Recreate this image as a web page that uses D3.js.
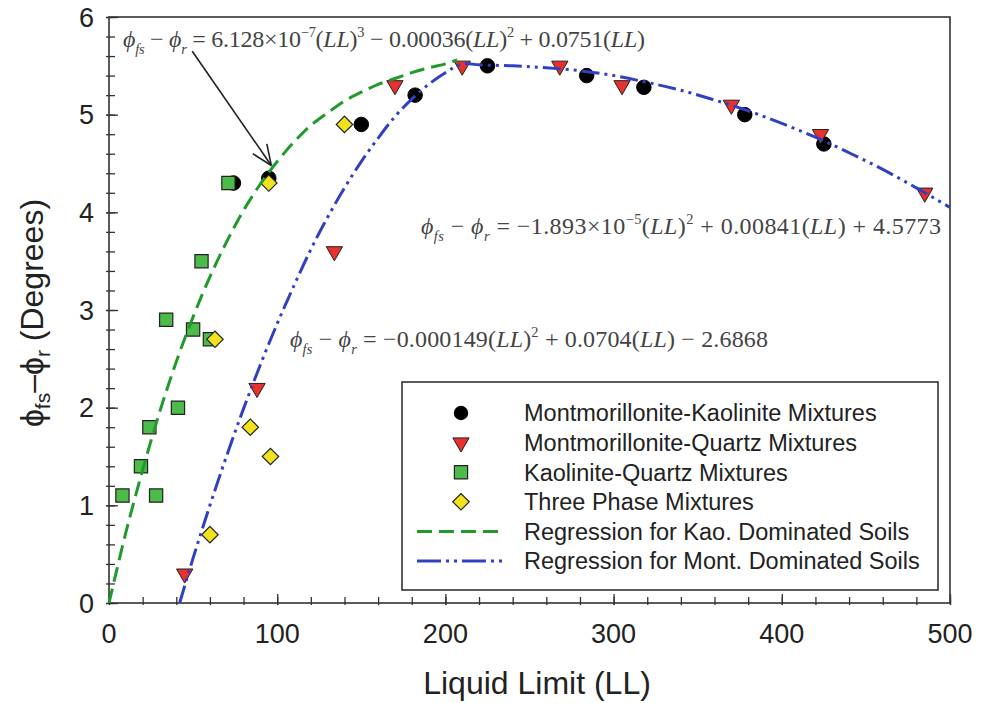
<!DOCTYPE html>
<html>
<head>
<meta charset="utf-8">
<script src="https://cdn.jsdelivr.net/npm/d3@7"></script>
<style>
  html, body { margin: 0; padding: 0; background: #fff; }
  svg { display: block; }
</style>
</head>
<body>
<script>
// ---------------- DATA ----------------
const xTicks = [0, 100, 200, 300, 400, 500];
const yTicks = [0, 1, 2, 3, 4, 5, 6];

// Montmorillonite-Kaolinite Mixtures (black circles)
const mkX = [74, 95, 150, 182, 225, 284, 318, 378, 425];
const mkY = [4.3, 4.35, 4.9, 5.2, 5.5, 5.4, 5.28, 5.0, 4.7];

// Montmorillonite-Quartz Mixtures (red down triangles)
const mqX = [45, 88, 134, 170, 210, 268, 305, 370, 423, 485];
const mqY = [0.3, 2.2, 3.6, 5.3, 5.5, 5.5, 5.3, 5.1, 4.8, 4.2];

// Kaolinite-Quartz Mixtures (green squares)
const kqX = [8, 19, 24, 28, 34, 41, 50, 55, 60, 71];
const kqY = [1.1, 1.4, 1.8, 1.1, 2.9, 2.0, 2.8, 3.5, 2.7, 4.3];

// Three Phase Mixtures (yellow diamonds)
const tpX = [60, 63, 84, 95, 96, 140];
const tpY = [0.7, 2.7, 1.8, 4.3, 1.5, 4.9];

// Regression for Kao. Dominated Soils
const kaoLineX = [0, 10, 20, 30, 40, 50, 60, 70, 80, 90, 100, 110, 120, 130, 140, 150, 160, 170, 180, 190, 200, 207];
const kaoLineY = [0, 0.72, 1.36, 1.95, 2.47, 2.93, 3.34, 3.70, 4.02, 4.29, 4.52, 4.72, 4.89, 5.02, 5.14, 5.23, 5.31, 5.37, 5.43, 5.48, 5.52, 5.56];

// Regression for Mont. Dominated Soils
const montLineX = [42, 50, 60, 70, 80, 90, 100, 110, 120, 130, 140, 150, 160, 170, 180, 190, 200, 210, 220, 240, 260, 280, 300, 320, 340, 360, 380, 400, 420, 440, 460, 480, 500];
const montLineY = [0, 0.46, 1.00, 1.51, 1.99, 2.44, 2.86, 3.25, 3.62, 3.95, 4.25, 4.52, 4.76, 4.98, 5.16, 5.31, 5.43, 5.52, 5.51, 5.50, 5.48, 5.45, 5.40, 5.33, 5.25, 5.15, 5.04, 4.91, 4.77, 4.61, 4.44, 4.25, 4.05];

const legendLabels = [
  "Montmorillonite-Kaolinite Mixtures",
  "Montmorillonite-Quartz Mixtures",
  "Kaolinite-Quartz Mixtures",
  "Three Phase Mixtures",
  "Regression for Kao. Dominated Soils",
  "Regression for Mont. Dominated Soils"
];

// ---------------- STYLE ----------------
const W = 990, H = 703;
const axisColor = "#333";
const greenLine = "#1f9a2b";
const blueLine = "#3040c0";
const fillRed = "#e8302c", fillGreen = "#4dbb4a", fillYellow = "#f2e21e";
const markStroke = "#222";
const sans = "Arial, 'Liberation Sans', Helvetica, sans-serif";
const serif = "'Times New Roman', 'Liberation Serif', Times, serif";
const eqColor = "#444";

const svg = d3.select("body").append("svg").attr("width", W).attr("height", H);
svg.append("rect").attr("width", W).attr("height", H).attr("fill", "#fff");

const x = d3.scaleLinear().domain([0, 500]).range([109, 950]);
const y = d3.scaleLinear().domain([0, 6]).range([603, 17]);

// ---------------- AXES ----------------
const xMinor = d3.range(0, 501, 20);
const yMinor = d3.range(0, 6.001, 0.2);

const xAxis = svg.append("g").attr("transform", `translate(0,${y(0)})`)
  .call(d3.axisTop(x).tickValues(xMinor).tickSize(6).tickFormat(""));
xAxis.selectAll(".tick line").attr("y2", -6).attr("y1", 2);
const xAxisMaj = svg.append("g").attr("transform", `translate(0,${y(0)})`)
  .call(d3.axisTop(x).tickValues(xTicks).tickSize(9).tickFormat(""));
xAxisMaj.selectAll(".tick line").attr("y2", -9).attr("y1", 2);

const yAxis = svg.append("g").attr("transform", `translate(${x(0)},0)`)
  .call(d3.axisRight(y).tickValues(yMinor).tickSize(6).tickFormat(""));
yAxis.selectAll(".tick line").attr("x2", 6).attr("x1", -3);
const yAxisMaj = svg.append("g").attr("transform", `translate(${x(0)},0)`)
  .call(d3.axisRight(y).tickValues(yTicks).tickSize(9).tickFormat(""));
yAxisMaj.selectAll(".tick line").attr("x2", 9).attr("x1", -3);

svg.selectAll(".domain").remove();
svg.selectAll(".tick line").attr("stroke", axisColor).attr("stroke-width", 1.3);

// frame
svg.append("rect")
  .attr("x", x(0)).attr("y", y(6))
  .attr("width", x(500) - x(0)).attr("height", y(0) - y(6))
  .attr("fill", "none").attr("stroke", axisColor).attr("stroke-width", 1.6);

// tick labels
svg.append("g").selectAll("text").data(xTicks).join("text")
  .attr("x", d => x(d)).attr("y", 643)
  .attr("text-anchor", "middle")
  .attr("font-family", sans).attr("font-size", 27).attr("fill", "#222")
  .text(d => d);
svg.append("g").selectAll("text").data(yTicks).join("text")
  .attr("x", 94).attr("y", d => y(d))
  .attr("dy", "0.36em")
  .attr("text-anchor", "end")
  .attr("font-family", sans).attr("font-size", 27).attr("fill", "#222")
  .text(d => d);

// axis titles
svg.append("text")
  .attr("x", 537).attr("y", 694)
  .attr("text-anchor", "middle")
  .attr("font-family", sans).attr("font-size", 32).attr("fill", "#222")
  .text("Liquid Limit (LL)");

const yt = svg.append("text")
  .attr("transform", "translate(43,313) rotate(-90)")
  .attr("text-anchor", "middle")
  .attr("font-family", sans).attr("font-size", 32).attr("fill", "#222");
yt.append("tspan").text("ϕ");
yt.append("tspan").text("fs").attr("font-size", 21).attr("dy", 7);
yt.append("tspan").text("–").attr("dy", -7);
yt.append("tspan").text("ϕ");
yt.append("tspan").text("r").attr("font-size", 21).attr("dy", 7);
yt.append("tspan").text(" (Degrees)").attr("dy", -7);

// ---------------- MARKS ----------------
const mk = mkX.map((v, i) => ({ x: v, y: mkY[i] }));
const mq = mqX.map((v, i) => ({ x: v, y: mqY[i] }));
const kq = kqX.map((v, i) => ({ x: v, y: kqY[i] }));
const tp = tpX.map((v, i) => ({ x: v, y: tpY[i] }));

const symCircle = d3.symbol().type(d3.symbolCircle).size(165);
const symTri = d3.symbol().type(d3.symbolTriangle).size(115);
const symSq = d3.symbol().type(d3.symbolSquare).size(175);
const symDia = d3.symbol().type(d3.symbolSquare).size(135);

function drawTri(g, data) {
  g.selectAll("path").data(data).join("path")
    .attr("d", symTri)
    .attr("transform", d => `translate(${x(d.x)},${y(d.y)}) rotate(180)`)
    .attr("fill", fillRed).attr("stroke", markStroke).attr("stroke-width", 1);
}

svg.append("g").selectAll("path").data(mk).join("path")
  .attr("d", symCircle)
  .attr("transform", d => `translate(${x(d.x)},${y(d.y)})`)
  .attr("fill", "#000").attr("stroke", "#000");
drawTri(svg.append("g"), mq);
svg.append("g").selectAll("path").data(kq).join("path")
  .attr("d", symSq)
  .attr("transform", d => `translate(${x(d.x)},${y(d.y)})`)
  .attr("fill", fillGreen).attr("stroke", markStroke).attr("stroke-width", 1.2);
svg.append("g").selectAll("path").data(tp).join("path")
  .attr("d", symDia)
  .attr("transform", d => `translate(${x(d.x)},${y(d.y)}) rotate(45)`)
  .attr("fill", fillYellow).attr("stroke", markStroke).attr("stroke-width", 1.2);

// ---------------- LINES ----------------
const kaoLine = kaoLineX.map((v, i) => ({ x: v, y: kaoLineY[i] }));
const montLine = montLineX.map((v, i) => ({ x: v, y: montLineY[i] }));
const line = d3.line().x(d => x(d.x)).y(d => y(d.y)).curve(d3.curveCatmullRom);

const greenDash = "15,7";
const blueDash = "18,5,3,5,3,5";

svg.append("path").datum(kaoLine).attr("d", line)
  .attr("fill", "none").attr("stroke", greenLine).attr("stroke-width", 3)
  .attr("stroke-dasharray", greenDash);
svg.append("path").datum(montLine).attr("d", line)
  .attr("fill", "none").attr("stroke", blueLine).attr("stroke-width", 3)
  .attr("stroke-dasharray", blueDash);

// ---------------- EQUATIONS ----------------
function formula(px, py, parts, size, len) {
  const t = svg.append("text").attr("x", px).attr("y", py)
    .attr("font-family", serif).attr("font-size", size).attr("fill", eqColor)
    .attr("textLength", len).attr("lengthAdjust", "spacing");
  let cur = 0;
  parts.forEach(([txt, k]) => {
    let target = 0;
    if (k === "sub" || k === "isub") target = size * 0.28;
    if (k === "sup") target = -size * 0.42;
    const ts = t.append("tspan").text(txt).attr("dy", target - cur);
    cur = target;
    if (k === "i" || k === "isub") ts.attr("font-style", "italic");
    if (k === "sub" || k === "isub" || k === "sup") ts.attr("font-size", size * 0.6);
  });
  return t;
}
const lhs = [["ϕ", "i"], ["fs", "isub"], [" − ", ""], ["ϕ", "i"], ["r", "isub"], [" = ", ""]];
const eqSize = 24;
formula(123, 47, lhs.concat([["6.128×10", ""], ["−7", "sup"], ["(", ""], ["LL", "i"], [")", ""], ["3", "sup"],
  [" − 0.00036(", ""], ["LL", "i"], [")", ""], ["2", "sup"], [" + 0.0751(", ""], ["LL", "i"], [")", ""]]), eqSize, 522);
formula(421, 234, lhs.concat([["−1.893×10", ""], ["−5", "sup"], ["(", ""], ["LL", "i"], [")", ""], ["2", "sup"],
  [" + 0.00841(", ""], ["LL", "i"], [")", ""], [" + 4.5773", ""]]), eqSize, 520);
formula(290, 347, lhs.concat([["−0.000149(", ""], ["LL", "i"], [")", ""], ["2", "sup"],
  [" + 0.0704(", ""], ["LL", "i"], [")", ""], [" − 2.6868", ""]]), eqSize, 478);

// arrow annotation (start near the first equation, tip at the green curve)
const a0 = [x(49.5), y(5.65)], a1 = [x(96.5), y(4.48)];
svg.append("line").attr("x1", a0[0]).attr("y1", a0[1]).attr("x2", a1[0]).attr("y2", a1[1])
  .attr("stroke", "#222").attr("stroke-width", 1.6);
const ang = Math.atan2(a1[1] - a0[1], a1[0] - a0[0]);
[0.4, -0.4].forEach(off => {
  svg.append("line")
    .attr("x1", a1[0]).attr("y1", a1[1])
    .attr("x2", a1[0] - 22 * Math.cos(ang + off)).attr("y2", a1[1] - 22 * Math.sin(ang + off))
    .attr("stroke", "#222").attr("stroke-width", 1.6);
});

// ---------------- LEGEND ----------------
const lg = svg.append("g");
lg.append("rect").attr("x", 402).attr("y", 382).attr("width", 536).attr("height", 208)
  .attr("fill", "#fff").attr("stroke", axisColor).attr("stroke-width", 1.6);
const rowY = i => 413 + i * 29.6;
const symX = 461;
lg.append("path").attr("d", symCircle).attr("transform", `translate(${symX},${rowY(0)})`)
  .attr("fill", "#000");
lg.append("path").attr("d", symTri).attr("transform", `translate(${symX},${rowY(1)}) rotate(180)`)
  .attr("fill", fillRed).attr("stroke", markStroke);
lg.append("path").attr("d", symSq).attr("transform", `translate(${symX},${rowY(2)})`)
  .attr("fill", fillGreen).attr("stroke", markStroke).attr("stroke-width", 1.2);
lg.append("path").attr("d", symDia).attr("transform", `translate(${symX},${rowY(3)}) rotate(45)`)
  .attr("fill", fillYellow).attr("stroke", markStroke).attr("stroke-width", 1.2);
lg.append("line").attr("x1", 417).attr("x2", 505).attr("y1", rowY(4)).attr("y2", rowY(4))
  .attr("stroke", greenLine).attr("stroke-width", 3).attr("stroke-dasharray", greenDash);
lg.append("line").attr("x1", 417).attr("x2", 505).attr("y1", rowY(5)).attr("y2", rowY(5))
  .attr("stroke", blueLine).attr("stroke-width", 3).attr("stroke-dasharray", "24,5,3,5,3,5");
lg.selectAll("text.lbl").data(legendLabels).join("text").attr("class", "lbl")
  .attr("x", 524).attr("y", (d, i) => rowY(i)).attr("dy", "0.36em")
  .attr("font-family", sans).attr("font-size", 23.5).attr("fill", "#222")
  .text(d => d);
</script>
</body>
</html>
